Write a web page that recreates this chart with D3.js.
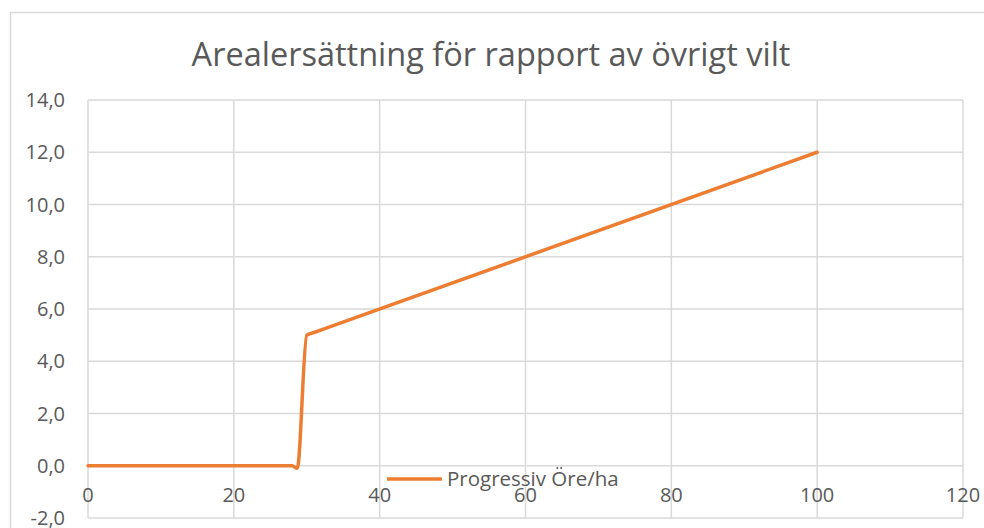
<!DOCTYPE html>
<html>
<head>
<meta charset="utf-8">
<script src="https://cdn.jsdelivr.net/npm/d3@7"></script>
<style>
    body { margin: 0; background: #fff; }
    text { font-family: "Open Sans", sans-serif; fill: #595959; }
</style>
</head>
<body>
<svg id="chart"></svg>
<script>
// data
const xValues = [0, 28, 28.7, 30, 31, 100];
const yValues = [0, 0, -0.1, 5.0, 5.1, 12.0];
const xTicks = [0, 20, 40, 60, 80, 100, 120];
const yTicks = [-2, 0, 2, 4, 6, 8, 10, 12, 14];
const seriesName = "Progressiv Öre/ha";
const title = "Arealersättning för rapport av övrigt vilt";

const WIDTH = 984, HEIGHT = 528;
const plot = {left: 88, right: 963, top: 100, bottom: 518};
const GRID = "#d9d9d9", LINE = "#ED7D31";

const svg = d3.select("#chart")
    .attr("width", WIDTH)
    .attr("height", HEIGHT);

// outer chart border (runs off the right/bottom edge)
svg.append("rect")
    .attr("x", 10.5).attr("y", 12.5)
    .attr("width", WIDTH + 20).attr("height", HEIGHT + 20)
    .attr("fill", "none")
    .attr("stroke", GRID)
    .attr("stroke-width", 1.5);

const xScale = d3.scaleLinear().domain([0, 120]).range([plot.left, plot.right]);
const yScale = d3.scaleLinear().domain([-2, 14]).range([plot.bottom, plot.top]);

// gridlines
svg.append("g")
    .selectAll("line")
    .data(yTicks)
    .join("line")
    .attr("x1", plot.left).attr("x2", plot.right)
    .attr("y1", d => yScale(d)).attr("y2", d => yScale(d))
    .attr("stroke", GRID).attr("stroke-width", 1.5);

svg.append("g")
    .selectAll("line")
    .data(xTicks)
    .join("line")
    .attr("x1", d => xScale(d)).attr("x2", d => xScale(d))
    .attr("y1", plot.top).attr("y2", plot.bottom)
    .attr("stroke", GRID).attr("stroke-width", 1.5);

// y labels
const fmt = d => d3.format(".1f")(d).replace(".", ",").replace("−", "-");
svg.append("g")
    .selectAll("text")
    .data(yTicks)
    .join("text")
    .attr("x", 65)
    .attr("y", d => yScale(d))
    .attr("dy", "0.35em")
    .attr("text-anchor", "end")
    .style("font-size", "20px")
    .text(fmt);

// x labels, sitting under the zero line
svg.append("g")
    .selectAll("text")
    .data(xTicks)
    .join("text")
    .attr("x", d => xScale(d))
    .attr("y", yScale(0) + 36)
    .attr("text-anchor", "middle")
    .style("font-size", "20px")
    .text(d => d);

// series line
const points = xValues.map((x, i) => [x, yValues[i]]);
const line = d3.line()
    .x(d => xScale(d[0]))
    .y(d => yScale(d[1]))
    .curve(d3.curveMonotoneX);

svg.append("path")
    .datum(points)
    .attr("d", line)
    .attr("fill", "none")
    .attr("stroke", LINE)
    .attr("stroke-width", 3.5)
    .attr("stroke-linejoin", "round")
    .attr("stroke-linecap", "round");

// title
svg.append("text")
    .attr("x", 491)
    .attr("y", 66)
    .attr("text-anchor", "middle")
    .style("font-size", "32.5px")
    .text(title);

// legend
const legend = svg.append("g").attr("transform", "translate(387,479)");
legend.append("line")
    .attr("x1", 0).attr("x2", 55)
    .attr("stroke", LINE).attr("stroke-width", 3.5);
legend.append("text")
    .attr("x", 60)
    .attr("dy", "0.35em")
    .style("font-size", "20.5px")
    .text(seriesName);
</script>
</body>
</html>
